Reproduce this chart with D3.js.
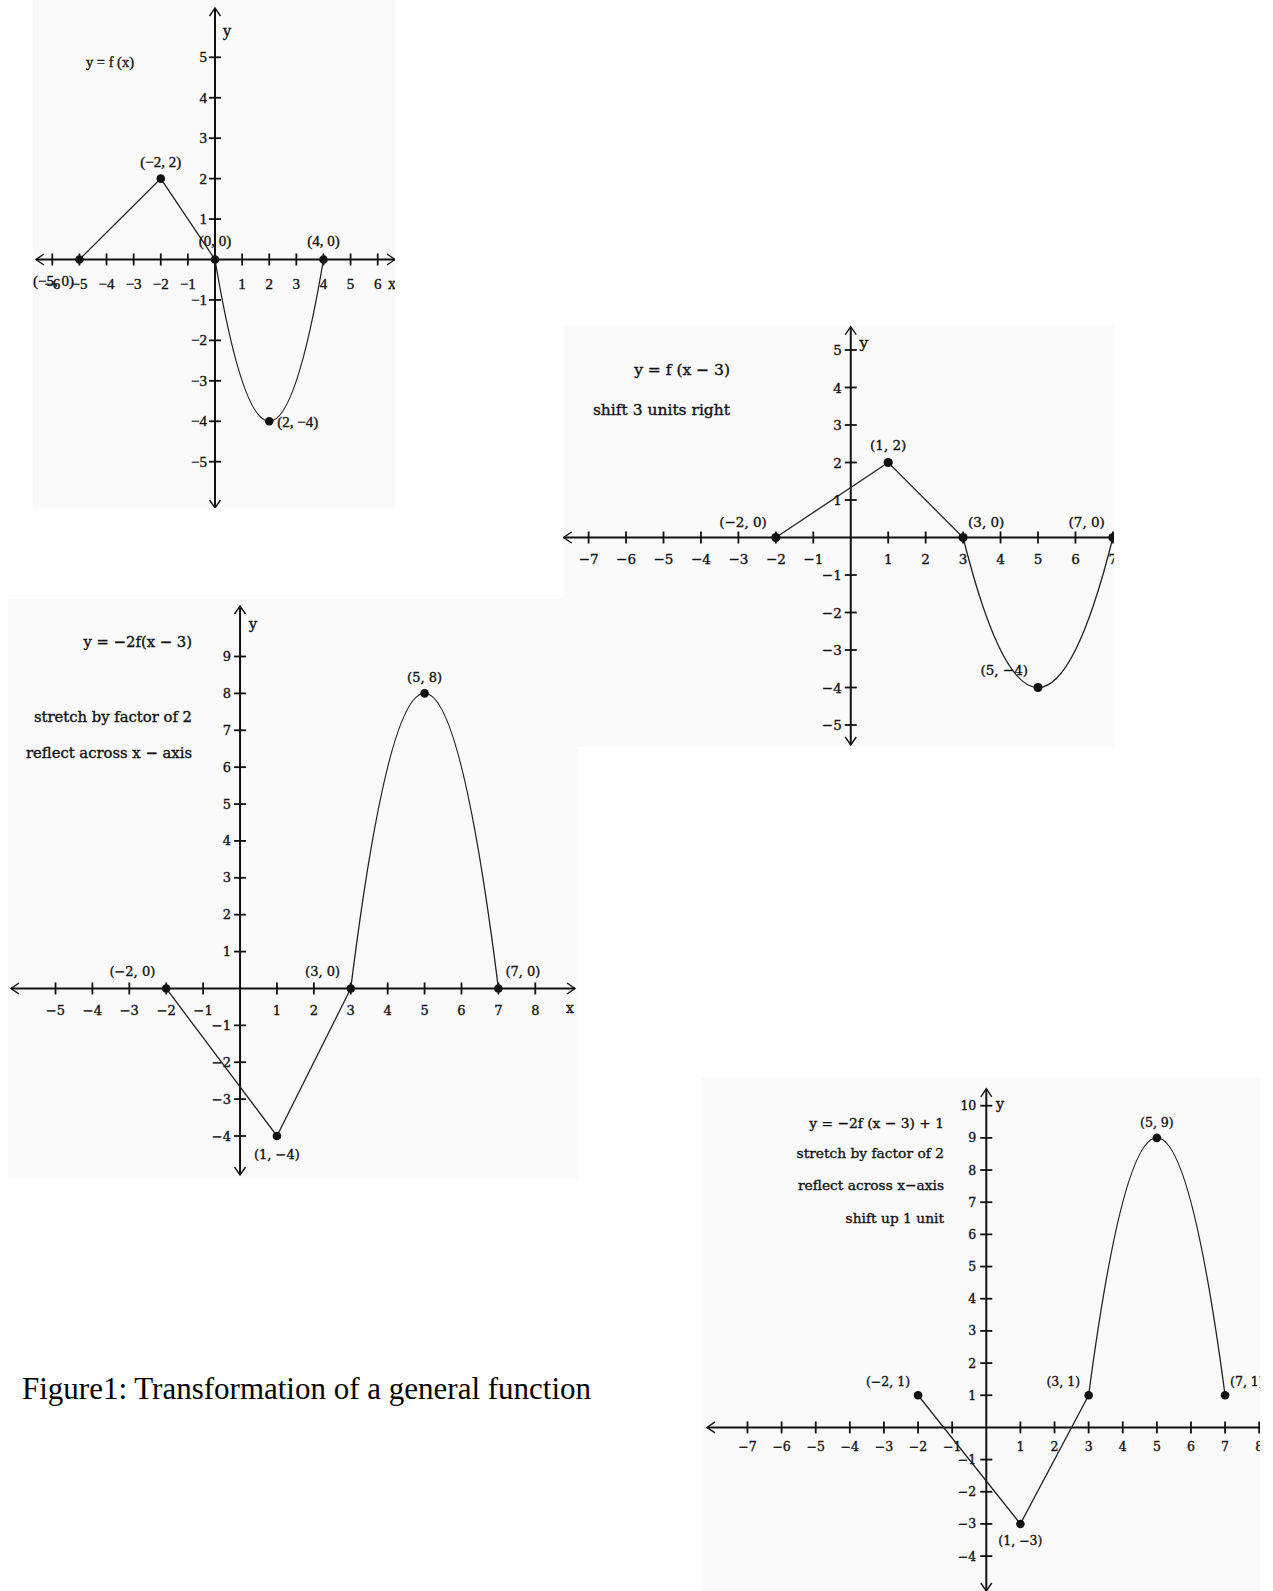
<!DOCTYPE html>
<html>
<head>
<meta charset="utf-8">
<script src="https://cdn.jsdelivr.net/npm/d3@7"></script>
<style>
  html, body { margin: 0; padding: 0; background: #ffffff; }
  svg { display: block; }
  text { fill: #111; }
  .ink { stroke: #111; stroke-width: 0.35px; }
</style>
</head>
<body>
<svg id="chart" width="1273" height="1591"></svg>
<script>
// ---- Key points of each graph: two straight pieces, then an arc through the last three points ----
const fPoints       = [[-5, 0], [-2, 2], [0, 0], [2, -4], [4, 0]];
const shiftPoints   = [[-2, 0], [1, 2], [3, 0], [5, -4], [7, 0]];
const stretchPoints = [[-2, 0], [1, -4], [3, 0], [5, 8], [7, 0]];
const liftPoints    = [[-2, 1], [1, -3], [3, 1], [5, 9], [7, 1]];

// ---- Tick values on each pair of axes ----
const fXTicks       = [-6, -5, -4, -3, -2, -1, 1, 2, 3, 4, 5, 6];
const fYTicks       = [-5, -4, -3, -2, -1, 1, 2, 3, 4, 5];
const shiftXTicks   = [-7, -6, -5, -4, -3, -2, -1, 1, 2, 3, 4, 5, 6, 7];
const shiftYTicks   = [-5, -4, -3, -2, -1, 1, 2, 3, 4, 5];
const stretchXTicks = [-5, -4, -3, -2, -1, 1, 2, 3, 4, 5, 6, 7, 8];
const stretchYTicks = [-4, -3, -2, -1, 1, 2, 3, 4, 5, 6, 7, 8, 9];
const liftXTicks    = [-7, -6, -5, -4, -3, -2, -1, 1, 2, 3, 4, 5, 6, 7, 8];
const liftYTicks    = [-4, -3, -2, -1, 1, 2, 3, 4, 5, 6, 7, 8, 9, 10];

// ---- Notes written beside each graph ----
const fNotes       = ["y = f (x)"];
const shiftNotes   = ["y = f (x \u2212 3)", "shift 3 units right"];
const stretchNotes = ["y = \u22122f(x \u2212 3)", "stretch by factor of 2", "reflect across x \u2212 axis"];
const liftNotes    = ["y = \u22122f (x \u2212 3) + 1", "stretch by factor of 2", "reflect across x\u2212axis", "shift up 1 unit"];
const captionText  = "Figure1: Transformation of a general function";

// ---- Layout of each panel (pixel geometry and type) ----
const panels = [
  {
    points: fPoints, xTicks: fXTicks, yTicks: fYTicks, notes: fNotes,
    xDomain: [-6, 6], xRange: [52.3, 377.7], yDomain: [5, -5], yRange: [57.3, 461.7],
    xAxisSpan: [36, 395], yAxisSpan: [8, 508],
    bg: [33, 0, 362, 508],
    font: "'Liberation Serif', serif", labelSize: 15, noteSize: 14.5,
    tickLabelDy: 24, tickLabelDx: -8,
    xName: [392, 283], yName: [227, 30],
    noteAnchor: "middle", noteX: 110, noteY: [62],
    labelPlace: [["middle", -26, 21], ["middle", 0, -17], ["middle", 0, -19], ["start", 8, 1], ["middle", 0, -19]],
    dotR: 4.3
  },
  {
    points: shiftPoints, xTicks: shiftXTicks, yTicks: shiftYTicks, notes: shiftNotes,
    xDomain: [-7, 7], xRange: [588.6, 1112.9], yDomain: [5, -5], yRange: [350, 725],
    xAxisSpan: [563.6, 1160], yAxisSpan: [326.7, 745],
    bg: [563, 325, 551, 422],
    font: "'DejaVu Serif', serif", labelSize: 13.5, noteSize: 15.5,
    tickLabelDy: 21, tickLabelDx: -9,
    xName: null, yName: [864, 343],
    noteAnchor: "end", noteX: 730, noteY: [370, 410],
    labelPlace: [["end", -9, -15.5], ["middle", 0, -17.5], ["start", 5, -15.5], ["end", -10, -17.5], ["end", -8, -15.5]],
    dotR: 4.6
  },
  {
    points: stretchPoints, xTicks: stretchXTicks, yTicks: stretchYTicks, notes: stretchNotes,
    xDomain: [-5, 8], xRange: [55.5, 535.3], yDomain: [9, -4], yRange: [656.5, 1136],
    xAxisSpan: [11, 575], yAxisSpan: [606, 1175],
    bg: [8, 599, 570, 580],
    font: "'DejaVu Serif', serif", labelSize: 13, noteSize: 14.8,
    tickLabelDy: 22, tickLabelDx: -9,
    xName: [570, 1008], yName: [253, 624],
    noteAnchor: "end", noteX: 192, noteY: [641, 716, 752],
    labelPlace: [["end", -11, -16.6], ["middle", 0, 18], ["end", -10.7, -16.6], ["middle", 0, -16], ["start", 7, -16.6]],
    dotR: 4.3
  },
  {
    points: liftPoints, xTicks: liftXTicks, yTicks: liftYTicks, notes: liftNotes,
    xDomain: [-7, 8], xRange: [747.5, 1259.2], yDomain: [10, -4], yRange: [1105.7, 1556.1],
    xAxisSpan: [707, 1300], yAxisSpan: [1088.8, 1591],
    bg: [702, 1078, 558, 513],
    font: "'DejaVu Serif', serif", labelSize: 12.5, noteSize: 13.8,
    tickLabelDy: 19, tickLabelDx: -10,
    xName: null, yName: [1000, 1104],
    noteAnchor: "end", noteX: 944, noteY: [1122.6, 1153, 1185, 1217.5],
    labelPlace: [["end", -8, -14], ["middle", 0, 17], ["end", -8.6, -14], ["middle", 0, -15.5], ["start", 5, -14]],
    dotR: 4.3
  }
];

const svg = d3.select("#chart");
const defs = svg.append("defs");
const fmt = v => (v < 0 ? "\u2212" + Math.abs(v) : String(v));

// Open chevron arrowhead at (x, y) pointing along (dx, dy)
function arrowHead(g, x, y, dx, dy) {
  const len = 8, half = 5.5;
  const px = -dy, py = dx;
  const p = d3.path();
  p.moveTo(x - dx * len + px * half, y - dy * len + py * half);
  p.lineTo(x, y);
  p.lineTo(x - dx * len - px * half, y - dy * len - py * half);
  g.append("path").attr("d", p.toString())
    .attr("fill", "none").attr("stroke", "#111").attr("stroke-width", 1.4);
}

panels.forEach((cfg, i) => {
  const [bx, by, bw, bh] = cfg.bg;
  defs.append("clipPath").attr("id", "clip" + i)
    .append("rect").attr("x", bx).attr("y", by).attr("width", bw).attr("height", bh);

  const g = svg.append("g").attr("clip-path", `url(#clip${i})`)
    .style("font-family", cfg.font);

  g.append("rect").attr("x", bx).attr("y", by).attr("width", bw).attr("height", bh)
    .attr("fill", "#fafafa");

  const x = d3.scaleLinear().domain(cfg.xDomain).range(cfg.xRange);
  const y = d3.scaleLinear().domain(cfg.yDomain).range(cfg.yRange);
  const x0 = x(0), y0 = y(0);

  // Axis lines with arrows on both ends
  g.append("line").attr("x1", cfg.xAxisSpan[0]).attr("x2", cfg.xAxisSpan[1])
    .attr("y1", y0).attr("y2", y0).attr("stroke", "#111").attr("stroke-width", 2);
  g.append("line").attr("x1", x0).attr("x2", x0)
    .attr("y1", cfg.yAxisSpan[0]).attr("y2", cfg.yAxisSpan[1]).attr("stroke", "#111").attr("stroke-width", 2);
  arrowHead(g, cfg.xAxisSpan[0], y0, -1, 0);
  arrowHead(g, cfg.xAxisSpan[1], y0, 1, 0);
  arrowHead(g, x0, cfg.yAxisSpan[0], 0, -1);
  arrowHead(g, x0, cfg.yAxisSpan[1], 0, 1);

  // Tick marks
  g.selectAll(".xt").data(cfg.xTicks).join("line")
    .attr("x1", d => x(d)).attr("x2", d => x(d))
    .attr("y1", y0 - 6).attr("y2", y0 + 6)
    .attr("stroke", "#111").attr("stroke-width", 1.8);
  g.selectAll(".yt").data(cfg.yTicks).join("line")
    .attr("x1", x0 - 6).attr("x2", x0 + 6)
    .attr("y1", d => y(d)).attr("y2", d => y(d))
    .attr("stroke", "#111").attr("stroke-width", 1.8);

  // Tick labels
  g.selectAll(".xl").data(cfg.xTicks).join("text")
    .attr("class", "ink")
    .attr("x", d => x(d)).attr("y", y0 + cfg.tickLabelDy)
    .attr("text-anchor", "middle").attr("dominant-baseline", "central")
    .style("font-size", cfg.labelSize + "px")
    .text(fmt);
  g.selectAll(".yl").data(cfg.yTicks).join("text")
    .attr("class", "ink")
    .attr("x", x0 + cfg.tickLabelDx).attr("y", d => y(d))
    .attr("text-anchor", "end").attr("dominant-baseline", "central")
    .style("font-size", cfg.labelSize + "px")
    .text(fmt);

  // Axis names
  if (cfg.xName) {
    g.append("text").attr("class", "ink").attr("x", cfg.xName[0]).attr("y", cfg.xName[1])
      .attr("text-anchor", "middle").attr("dominant-baseline", "central")
      .style("font-size", (cfg.labelSize + 1) + "px").text("x");
  }
  g.append("text").attr("class", "ink").attr("x", cfg.yName[0]).attr("y", cfg.yName[1])
    .attr("text-anchor", "middle").attr("dominant-baseline", "central")
    .style("font-size", (cfg.labelSize + 2) + "px").text("y");

  // Graph: straight pieces, then the parabolic arc with its vertex at the fourth point
  const pts = cfg.points;
  const P = pts.map(([a, b]) => [x(a), y(b)]);
  const path = d3.path();
  path.moveTo(P[0][0], P[0][1]);
  path.lineTo(P[1][0], P[1][1]);
  path.lineTo(P[2][0], P[2][1]);
  const cx = 2 * P[3][0] - (P[2][0] + P[4][0]) / 2;
  const cy = 2 * P[3][1] - (P[2][1] + P[4][1]) / 2;
  path.quadraticCurveTo(cx, cy, P[4][0], P[4][1]);
  g.append("path").attr("d", path.toString())
    .attr("fill", "none").attr("stroke", "#222").attr("stroke-width", 1.3);

  // Dots at key points
  g.selectAll(".dot").data(pts).join("circle")
    .attr("cx", d => x(d[0])).attr("cy", d => y(d[1])).attr("r", cfg.dotR)
    .attr("fill", "#111");

  // Coordinate labels
  g.selectAll(".pl").data(pts).join("text")
    .attr("class", "ink")
    .attr("x", (d, k) => x(d[0]) + cfg.labelPlace[k][1])
    .attr("y", (d, k) => y(d[1]) + cfg.labelPlace[k][2])
    .attr("text-anchor", (d, k) => cfg.labelPlace[k][0])
    .attr("dominant-baseline", "central")
    .style("font-size", cfg.labelSize + "px")
    .text(d => `(${fmt(d[0])}, ${fmt(d[1])})`);

  // Notes
  g.selectAll(".note").data(cfg.notes).join("text")
    .attr("class", "ink")
    .attr("x", cfg.noteX).attr("y", (d, k) => cfg.noteY[k])
    .attr("text-anchor", cfg.noteAnchor).attr("dominant-baseline", "central")
    .style("font-size", cfg.noteSize + "px")
    .text(d => d);
});

// Figure caption
svg.append("text")
  .attr("x", 22).attr("y", 1399)
  .style("font-family", "'Liberation Serif', 'Times New Roman', serif")
  .style("font-size", "31px")
  .style("fill", "#000")
  .text(captionText);
</script>
</body>
</html>
